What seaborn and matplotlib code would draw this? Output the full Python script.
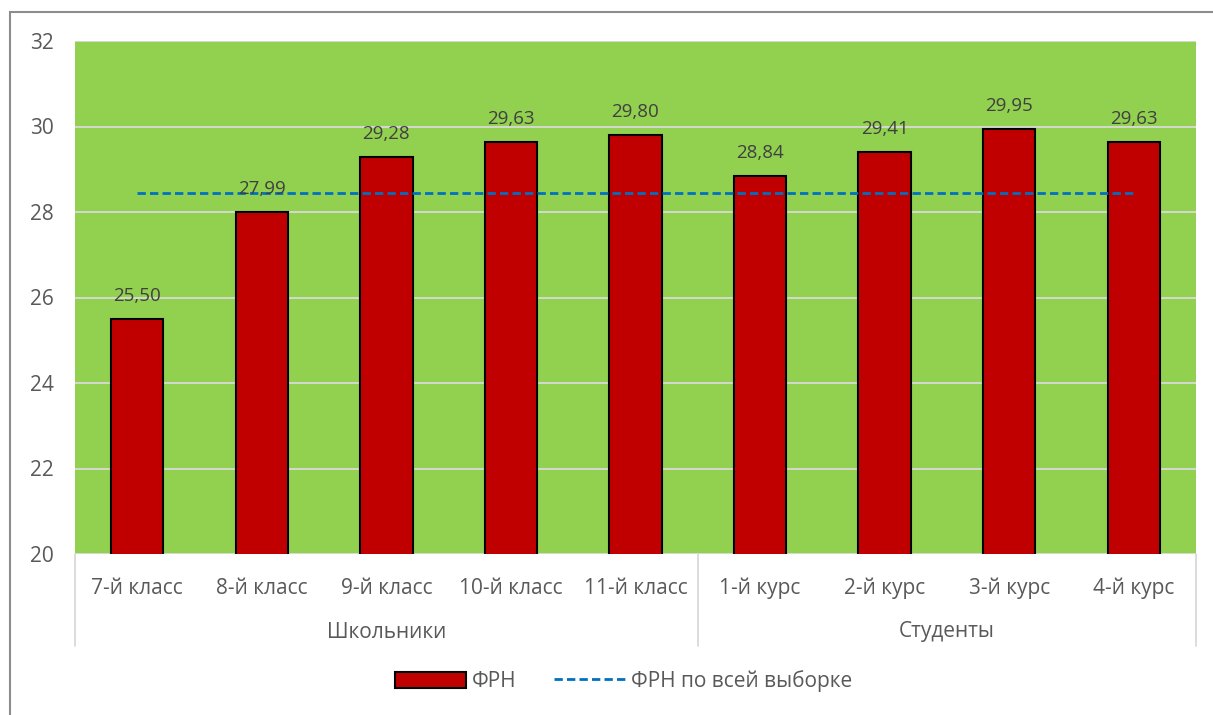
import matplotlib
matplotlib.use("Agg")
import matplotlib.pyplot as plt
import matplotlib.transforms as mtransforms
from matplotlib.patches import Rectangle, Patch
from matplotlib.lines import Line2D
import seaborn as sns
import pandas as pd

categories = ["7-й класс", "8-й класс", "9-й класс", "10-й класс", "11-й класс",
              "1-й курс", "2-й курс", "3-й курс", "4-й курс"]
values = [25.50, 27.99, 29.28, 29.63, 29.80, 28.84, 29.41, 29.95, 29.63]
overall_mean = 28.44
groups = ["Школьники", "Студенты"]
group_sizes = [5, 4]
y_ticks = [20, 22, 24, 26, 28, 30, 32]

sns.set_theme(style="white")
plt.rcParams["font.family"] = ["Open Sans", "DejaVu Sans"]

df = pd.DataFrame({"cat": categories, "val": values})

W, H = 1213, 715
fig = plt.figure(figsize=(W / 100, H / 100), dpi=100)
ax = fig.add_axes([75 / W, 1 - 554 / H, (1196 - 75) / W, (554 - 41) / H])
ax.set_facecolor("#92D050")

DASH = (0, (3, 1.5))
sns.barplot(data=df, x="cat", y="val", ax=ax, color="#C00000", width=0.42,
            edgecolor="black", linewidth=1.5, saturation=1, zorder=3)
ax.plot(range(len(categories)), [overall_mean] * len(categories),
        color="#0070C0", linestyle=DASH, linewidth=2.0, zorder=4)

for i, v in enumerate(values):
    ax.text(i, v + 0.33, f"{v:.2f}".replace(".", ","), ha="center", va="bottom",
            fontsize=13.5, color="#404040", zorder=5)

ax.set_ylim(20, 32)
ax.set_xlim(-0.5, len(categories) - 0.5)
ax.set_yticks(y_ticks)
ax.yaxis.grid(True, color="#D9D9D9", linewidth=1.3)
ax.set_axisbelow(True)
for sp in ax.spines.values():
    sp.set_visible(False)
ax.tick_params(axis="both", length=0, labelsize=15, colors="#595959")
ax.tick_params(axis="x", pad=17)
ax.tick_params(axis="y", pad=15)
ax.set_xlabel("")
ax.set_ylabel("")

# group labels and separators beneath the category axis
trans = mtransforms.blended_transform_factory(ax.transData, ax.transAxes)
sep_bottom = -(646 - 554) / (554 - 41)
start = -0.5
seps = [start]
for name, n in zip(groups, group_sizes):
    end = start + n
    ax.text((start + end) / 2, -(632 - 554) / (554 - 41), name, transform=trans,
            ha="center", va="center", fontsize=15, color="#595959")
    seps.append(end)
    start = end
for x in seps:
    ax.plot([x, x], [0, sep_bottom], transform=trans, color="#D9D9D9",
            linewidth=1.3, clip_on=False)

# chart border
fig.patches.append(Rectangle((10 / W, -0.1), 1.2, 1 - 12 / H + 0.1,
                             transform=fig.transFigure, fill=False,
                             edgecolor="#8C8C8C", linewidth=1.5))

handles = [Patch(facecolor="#C00000", edgecolor="black", linewidth=1.5),
           Line2D([0], [0], color="#0070C0", linestyle=DASH, linewidth=2.0)]
fig.legend(handles, ["ФРН", "ФРН по всей выборке"], loc="center",
           bbox_to_anchor=(0.514, 1 - 681 / H), ncol=2, frameon=False,
           fontsize=15, handlelength=3.4, handleheight=0.8, handletextpad=0.3,
           columnspacing=1.8, labelcolor="#595959")

fig.savefig("out.png", dpi=100)
